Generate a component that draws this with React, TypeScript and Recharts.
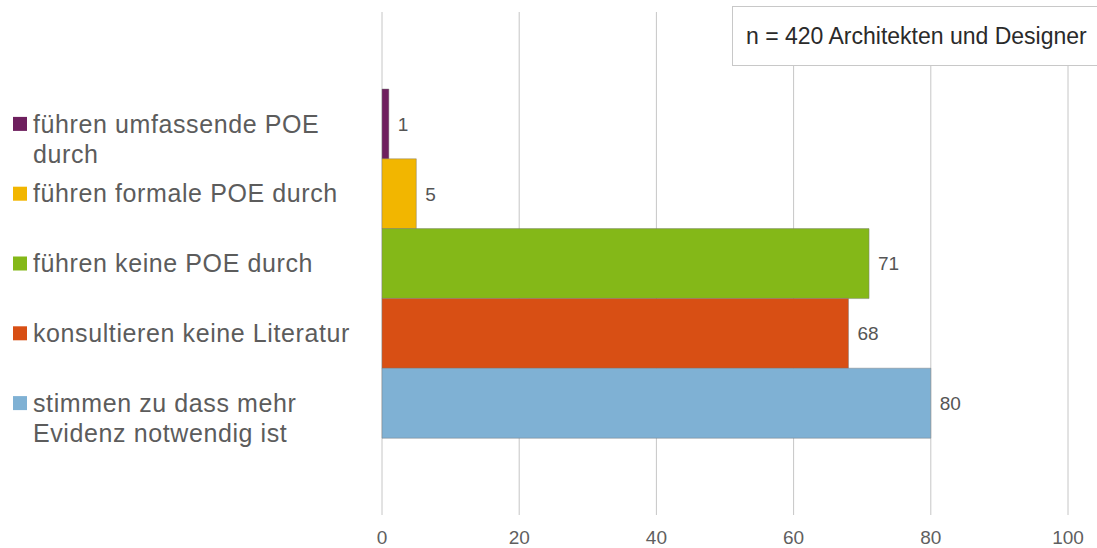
import React from "react";
import {
  BarChart,
  Bar,
  XAxis,
  YAxis,
  CartesianGrid,
  Cell,
  LabelList,
} from "recharts";

// categories (legend-style labels on the left), "\n" marks a line break
const categories = [
  "führen umfassende POE\ndurch",
  "führen formale POE durch",
  "führen keine POE durch",
  "konsultieren keine Literatur",
  "stimmen zu dass mehr\nEvidenz notwendig ist",
];
const values = [1, 5, 71, 68, 80];
const barColors = ["#6e1f5e", "#f2b600", "#84b818", "#d84f14", "#7fb1d4"];
const xTicks = [0, 20, 40, 60, 80, 100];
const noteText = "n = 420 Architekten und Designer";

const FONT = "'Liberation Sans', Arial, sans-serif";

const chartData = categories.map((name, i) => ({
  name,
  value: values[i],
  color: barColors[i],
}));

// left label: colored square + (possibly two-line) text
const LegendTick = (props: any) => {
  const { y, payload, index } = props;
  const lines = String(payload.value).split("\n");
  const color = barColors[index] ?? "#999";
  return (
    <g>
      <rect x={13} y={y - 7} width={14} height={14} fill={color} />
      <text
        x={33}
        y={y}
        fill="#5c5c5c"
        fontSize={25}
        letterSpacing={0.6}
        fontFamily={FONT}
      >
        {lines.map((line, i) => (
          <tspan key={i} x={33} dy={i === 0 ? "0.35em" : 30}>
            {line}
          </tspan>
        ))}
      </text>
    </g>
  );
};

export default function App() {
  return (
    <div
      style={{
        position: "absolute",
        left: 0,
        top: 0,
        width: 1097,
        height: 548,
        background: "#fff",
        fontFamily: FONT,
      }}
    >
      <BarChart
        width={1097}
        height={548}
        data={chartData}
        layout="vertical"
        barCategoryGap={0}
        margin={{ top: 12, right: 29, left: 0, bottom: 0 }}
      >
        <CartesianGrid horizontal={false} stroke="#c6c6c6" />
        <XAxis
          type="number"
          domain={[0, 100]}
          ticks={xTicks}
          axisLine={false}
          tickLine={false}
          tickSize={0}
          tickMargin={16}
          height={33}
          tick={{ fill: "#5f5f5f", fontSize: 19, fontFamily: FONT }}
        />
        <YAxis
          type="category"
          dataKey="name"
          width={382}
          axisLine={false}
          tickLine={false}
          padding={{ top: 77, bottom: 77 }}
          tick={<LegendTick />}
          interval={0}
        />
        <Bar
          dataKey="value"
          isAnimationActive={false}
          stroke="rgba(120,120,120,0.45)"
          strokeWidth={1}
        >
          {chartData.map((d, i) => (
            <Cell key={i} fill={d.color} />
          ))}
          <LabelList
            dataKey="value"
            position="right"
            offset={9}
            fill="#555"
            fontSize={19}
            fontFamily={FONT}
          />
        </Bar>
      </BarChart>
      <div
        style={{
          position: "absolute",
          left: 732,
          top: 6,
          width: 380,
          height: 60,
          boxSizing: "border-box",
          border: "1px solid #c8c8c8",
          background: "#fff",
          color: "#2a2a2a",
          fontSize: 23,
          lineHeight: "58px",
          paddingLeft: 13,
          whiteSpace: "nowrap",
        }}
      >
        {noteText}
      </div>
    </div>
  );
}
